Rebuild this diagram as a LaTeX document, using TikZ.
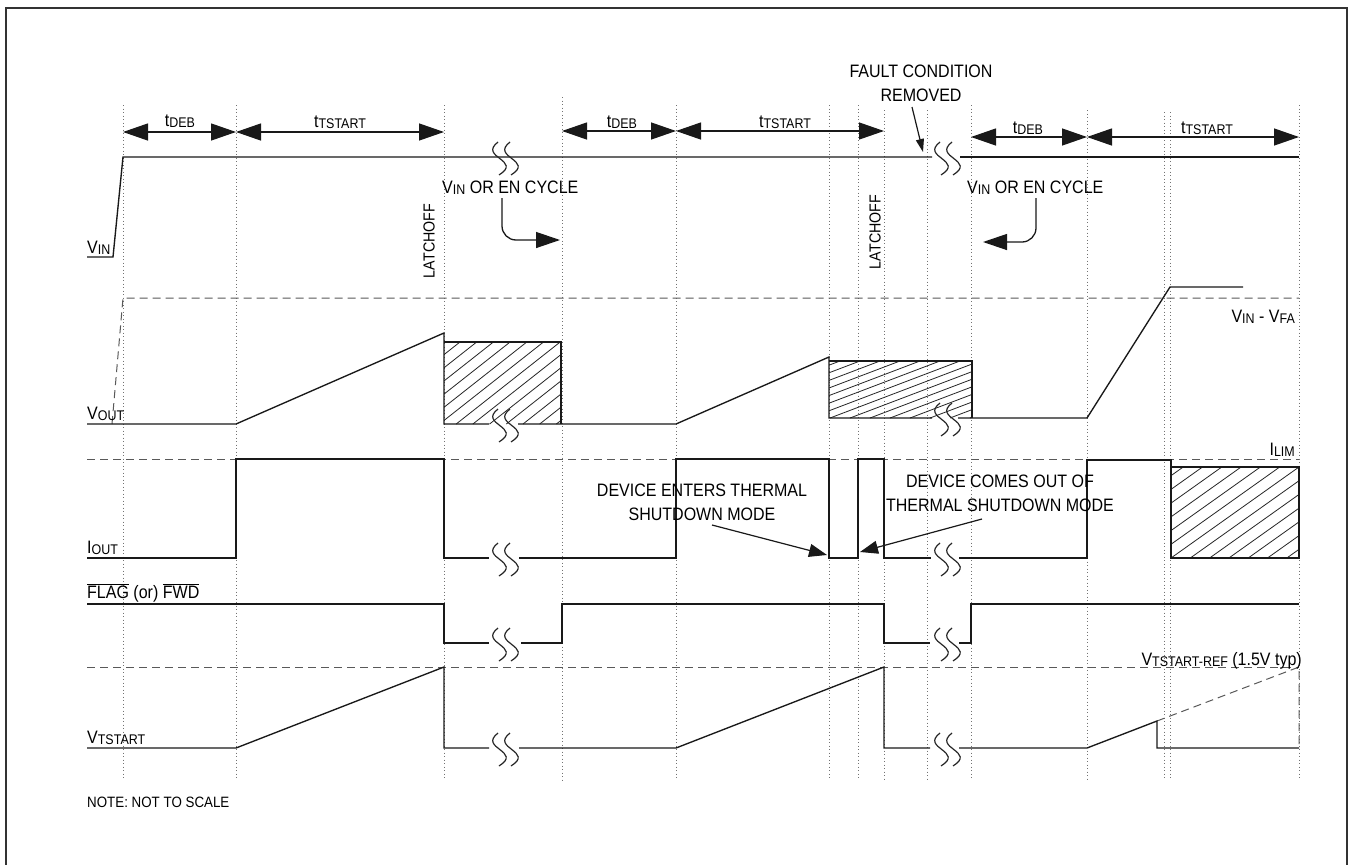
\documentclass[tikz,border=0pt]{standalone}
\usepackage{fontspec}
\setmainfont{Liberation Sans}[FakeStretch=0.89]
\usetikzlibrary{arrows.meta}
\newcommand\sbs[1]{\raisebox{-1.5pt}{\fontsize{14}{14}\selectfont #1}}
\newcommand\ovl[1]{\ensuremath{\overline{\mbox{#1}}}}
\begin{document}
\begin{tikzpicture}[x=1pt,y=-1pt,
  frame/.style={line width=1.5pt, draw=black!80},
  sig/.style={line width=1.35pt, draw=black!90},
  dotline/.style={line width=0.9pt, draw=black!55, dash pattern=on 0.9pt off 2.6pt},
  refline/.style={line width=1pt, draw=black!65, dash pattern=on 8pt off 5pt},
  hatchln/.style={line width=0.8pt, draw=black!85},
  lbl/.style={font=\fontsize{18}{24}\selectfont, inner sep=0pt, text=black},
  smlbl/.style={font=\fontsize{16}{20}\selectfont, inner sep=0pt, text=black},
  notelbl/.style={font=\fontsize{15}{18}\selectfont, inner sep=0pt, text=black},
  tarr/.style={line width=1.3pt, draw=black!90, {Triangle[length=25pt,width=17pt]}-{Triangle[length=25pt,width=17pt]}},
  carr/.style={line width=1.3pt, draw=black!90, -{Triangle[length=24pt,width=16pt]}},
  marr/.style={line width=1.2pt, draw=black!90, -{Triangle[length=18pt,width=13pt]}},
  farr/.style={line width=1.2pt, draw=black!90, -{Triangle[length=13pt,width=8pt]}},
  squig/.pic={
    \draw[line width=1.2pt, black!85] (-5,-15) .. controls (-25,0.5) and (20,3) .. (-4,18);
    \draw[line width=1.2pt, black!85] (7,-15) .. controls (-13,0.5) and (32,3) .. (8,18);
  }]
\useasboundingbox (0,0) rectangle (1350,865);
\fill[white] (0,0) rectangle (1350,865);
\draw[frame] (6,870) -- (6,8) -- (1347,8) -- (1347,870);

% dotted time markers
\foreach \x/\t in {123/105, 236/105, 444/105, 562/97, 676/105, 829/105, 858/105, 884/110, 927/110, 971/105, 1087/110, 1164/112, 1170/112, 1299/105}
  \draw[dotline] (\x,\t) -- (\x,780);

% reference dashed levels
\draw[refline] (112,424) -- (123,298) -- (1299,298);
\draw[refline] (87,459) -- (1299,459);
\draw[refline] (87,667) -- (1299,667);
\draw[refline] (1157,721) -- (1299,667) -- (1299,748);

% ---------- VIN ----------
\draw[sig] (87,257) -- (113,257) -- (123,157) -- (932,157);
\draw[sig] (960,157) -- (1299,157);
\pic at (503,157) {squig};
\pic at (945,157) {squig};

% ---------- VOUT ----------
\begin{scope}
  \clip (444,342) rectangle (561,424);
  \foreach \k in {-1,...,12} \draw[hatchln] (460+\k*16.7-104,424) -- ++(104,-82);
\end{scope}
\begin{scope}
  \clip (829,361) rectangle (972,418);
  \foreach \k in {-1,...,15} \draw[hatchln] (840+\k*20-150,418) -- ++(150,-57);
\end{scope}
\draw[sig] (87,424) -- (236,424) -- (444,333) -- (444,424) -- (489,424);
\draw[sig] (444,342) -- (561,342) -- (561,424);
\draw[sig] (518,424) -- (676,424) -- (829,357) -- (829,418) -- (932,418);
\draw[sig] (829,361) -- (972,361) -- (972,418);
\draw[sig] (958,418) -- (1087,418) -- (1170,287) -- (1243,287);
\pic at (503,424) {squig};
\pic at (945,418) {squig};

% ---------- IOUT ----------
\begin{scope}
  \clip (1171,467) rectangle (1299,558);
  \foreach \k in {-7,...,13} \draw[hatchln] (1299-\k*19.3-128,558) -- ++(128,-91);
\end{scope}
\draw[sig] (87,558) -- (236,558) -- (236,459) -- (444,459) -- (444,558) -- (489,558);
\draw[sig] (519,558) -- (676,558) -- (676,459) -- (829,459) -- (829,558) -- (858,558) -- (858,459) -- (884,459) -- (884,558) -- (931,558);
\draw[sig] (959,558) -- (1087,558) -- (1087,460) -- (1171,460) -- (1171,558) -- (1299,558) -- (1299,467) -- (1171,467);
\pic at (503,558) {squig};
\pic at (945,558) {squig};

% ---------- FLAG ----------
\draw[sig] (87,604) -- (444,604) -- (444,643) -- (489,643);
\draw[sig] (521,643) -- (562,643) -- (562,604) -- (884,604) -- (884,643) -- (930,643);
\draw[sig] (959,643) -- (971,643) -- (971,604) -- (1299,604);
\pic at (503,643) {squig};
\pic at (945,643) {squig};

% ---------- VTSTART ----------
\draw[sig] (87,748) -- (236,748) -- (444,667) -- (444,748) -- (489,748);
\draw[sig] (519,748) -- (676,748) -- (884,667) -- (884,748) -- (930,748);
\draw[sig] (959,748) -- (1087,748) -- (1157,721) -- (1157,748) -- (1299,748);
\pic at (503,748) {squig};
\pic at (945,748) {squig};

% ---------- timing annotations ----------
\coordinate (d1a) at (123,132); \coordinate (d1b) at (236,132);
\coordinate (s1a) at (236,132); \coordinate (s1b) at (444,132);
\coordinate (d2a) at (562,131); \coordinate (d2b) at (676,131);
\coordinate (s2a) at (676,131); \coordinate (s2b) at (884,131);
\coordinate (d3a) at (971,137); \coordinate (d3b) at (1087,137);
\coordinate (s3a) at (1087,137); \coordinate (s3b) at (1299,137);
\draw[tarr] (d1a) -- (d1b);
\draw[tarr] (s1a) -- (s1b);
\draw[tarr] (d2a) -- (d2b);
\draw[tarr] (s2a) -- (s2b);
\draw[tarr] (d3a) -- (d3b);
\draw[tarr] (s3a) -- (s3b);
\node[lbl, anchor=base] (tdeb1) at (180,126) {t\sbs{DEB}};
\node[lbl, anchor=base] (tts1) at (340,127) {t\sbs{TSTART}};
\node[lbl, anchor=base] (tdeb2) at (622,127) {t\sbs{DEB}};
\node[lbl, anchor=base] (tts2) at (785,127) {t\sbs{TSTART}};
\node[lbl, anchor=base] (tdeb3) at (1028,133) {t\sbs{DEB}};
\node[lbl, anchor=base] (tts3) at (1207,133) {t\sbs{TSTART}};

% fault condition removed
\node[lbl, align=center] (fault) at (921,83.5) {FAULT CONDITION\\REMOVED};
\coordinate (faultTip) at (923,152);
\draw[farr] (912,107) -- (faultTip);

% VIN or EN cycle
\node[lbl, anchor=base west] (cyc1) at (442,193) {V\sbs{IN} OR EN CYCLE};
\node[lbl, anchor=base west] (cyc2) at (967,193) {V\sbs{IN} OR EN CYCLE};
\coordinate (cyc1Tip) at (560,240);
\coordinate (cyc2Tip) at (983,242);
\draw[carr, rounded corners=14pt] (502,198) -- (502,240) -- (cyc1Tip);
\draw[carr, rounded corners=14pt] (1036,198) -- (1036,242) -- (cyc2Tip);

% latchoff
\node[smlbl, rotate=90] (latch1) at (429,241) {LATCHOFF};
\node[smlbl, rotate=90] (latch2) at (875,232) {LATCHOFF};

% thermal shutdown callouts
\node[lbl, align=center] (therm1) at (702,502.5) {DEVICE ENTERS THERMAL\\SHUTDOWN MODE};
\node[lbl, align=center] (therm2) at (1000,493.5) {DEVICE COMES OUT OF\\THERMAL SHUTDOWN MODE};
\coordinate (th1Tip) at (827,555);
\coordinate (th2Tip) at (860,552);
\draw[marr] (712,525) -- (th1Tip);
\draw[marr] (982,519) -- (th2Tip);

% right-side level labels
\node[lbl, anchor=base east] (vfa) at (1295,322) {V\sbs{IN} - V\sbs{FA}};
\node[lbl, anchor=base east] (ilim) at (1295,455) {I\sbs{LIM}};
\node[lbl, anchor=base east] (vref) at (1302,665) {V\sbs{TSTART-REF} (1.5V typ)};

% left-side signal names
\node[lbl, anchor=base west] (nVin) at (87,253) {V\sbs{IN}};
\node[lbl, anchor=base west] (nVout) at (87,419) {V\sbs{OUT}};
\node[lbl, anchor=base west] (nIout) at (87,553) {I\sbs{OUT}};
\node[lbl, anchor=base west] (nFlag) at (87,598) {\ovl{FLAG} (or) \ovl{FWD}};
\node[lbl, anchor=base west] (nVts) at (87,743) {V\sbs{TSTART}};
\node[notelbl, anchor=base west] (note) at (87,807) {NOTE: NOT TO SCALE};
\end{tikzpicture}
\end{document}
